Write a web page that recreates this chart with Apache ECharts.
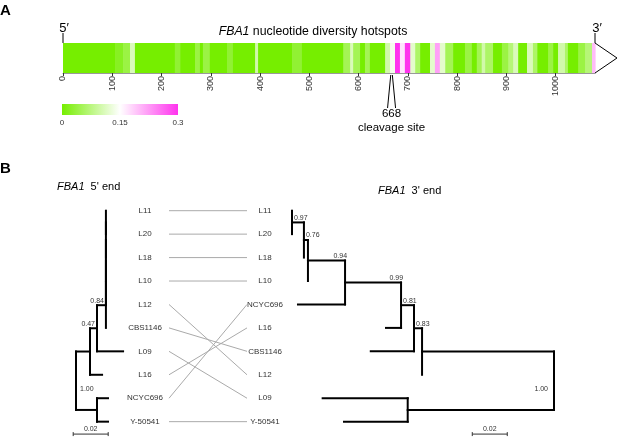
<!DOCTYPE html>
<html><head><meta charset="utf-8">
<script src="https://cdn.jsdelivr.net/npm/echarts/dist/echarts.min.js"></script>
<style>html,body{margin:0;padding:0;background:#fff}#c{width:617px;height:445px}</style>
</head><body><div id="c"></div>
<script>
// ---------- DATA ----------
const geneLength = 1080;
// sliding-window nucleotide diversity: window start (bp) and diversity value
const hotspotStart = [0,106,122,136,146,227,238,268,278,284,298,333,345,390,396,465,485,569,583,589,603,613,623,654,664,674,684,694,705,715,725,745,755,765,776,792,816,830,840,850,857,873,891,904,914,924,942,954,963,985,995,1005,1019,1025,1046,1060,1074];
const hotspotPi    = [0,0.02,0.04,0.11,0,0.03,0,0.04,0,0.04,0,0.03,0,0.1,0,0.03,0,0.05,0.11,0.05,0,0.05,0,0.1,0.14,0.3,0.17,0.3,0.12,0.06,0,0.12,0.22,0.12,0.05,0,0.04,0,0.05,0.1,0.06,0,0.04,0.07,0.11,0,0.11,0.06,0,0.04,0,0.1,0.06,0,0.04,0.07,0.2];
const heatColors = ['#76ee00', '#ffffff', '#ff33ee'];
const piScaleMax = 0.3;
const piScaleStep = 0.15;
const positionStep = 100;
const cleavageSite = 668;
const endPositions = [0, geneLength];
const endLabels = ['5\u2032', '3\u2032'];

const leftOrder  = ['L11','L20','L18','L10','L12','CBS1146','L09','L16','NCYC696','Y-50541'];
const rightOrder = ['L11','L20','L18','L10','NCYC696','L16','CBS1146','L12','L09','Y-50541'];
// [node, parent, distance from root]
const leftTree = [
  ['root', null, 0], ['n047','root',0.008], ['n084','n047',0.012],
  ['nA5','n084',0.0171], ['nA4','nA5',0.0171], ['nA3','nA4',0.0171], ['nA2','nA3',0.0171], ['nA1','nA2',0.0171],
  ['L11','nA1',0.0171], ['L20','nA1',0.0171], ['L18','nA2',0.0171], ['L10','nA3',0.0171], ['L12','nA4',0.0171], ['CBS1146','nA5',0.0171],
  ['L09','n084',0.0269], ['L16','n047',0.0149],
  ['nB','root',0.012], ['NCYC696','nB',0.0183], ['Y-50541','nB',0.0183]
];
const rightTree = [
  ['root', null, 0], ['n083','root',0.0754], ['n081','n083',0.08], ['n099','n081',0.0874],
  ['n094','n099',0.1194], ['n076b','n094',0.1406], ['n076a','n076b',0.1429], ['n097','n076a',0.1497],
  ['L11','n097',0.1497], ['L20','n097',0.1497], ['L18','n076a',0.1429], ['L10','n076b',0.1406],
  ['NCYC696','n094',0.1463], ['L16','n099',0.096], ['CBS1146','n081',0.1047], ['L12','n083',0.0754],
  ['nB2','root',0.0836], ['L09','nB2',0.1322], ['Y-50541','nB2',0.12]
];
// [node, support, placement]
const leftSupport  = [['nA5','0.84','node'], ['n084','0.47','node'], ['root','1.00','root']];
const rightSupport = [['n097','0.97','node'], ['n076a','0.76','node'], ['n076b','0.94','parent'], ['n094','0.99','parent'], ['n099','0.81','node'], ['n081','0.83','node'], ['root','1.00','root']];
const scaleBarLength = 0.02;
const leftScaleStart = -0.0016;
const rightScaleStart = 0.0267;
const scaleBarRow = 9.53;

// ---------- BUILD ----------
const FONT = 'Liberation Sans, Arial, Helvetica, sans-serif';
const chart = echarts.init(document.getElementById('c'), null, {renderer: 'canvas', width: 617, height: 445});

function layoutTree(nodes, order) {
  const m = {}, list = [];
  nodes.forEach(([name, parent, depth]) => { m[name] = {name, parent, depth, children: []}; list.push(m[name]); });
  list.forEach(n => { if (n.parent) m[n.parent].children.push(n); });
  const setY = n => {
    if (!n.children.length) { n.y = order.indexOf(n.name); return; }
    n.children.forEach(setY);
    const ys = n.children.map(c => c.y);
    n.minY = Math.min(...ys); n.maxY = Math.max(...ys); n.y = (n.minY + n.maxY) / 2;
  };
  setY(list.find(n => !n.parent));
  const segs = [];
  list.forEach(n => {
    if (n.parent) { const p = m[n.parent]; if (n.depth > p.depth) segs.push([p.depth, n.y, n.depth, n.y]); }
    if (n.children.length) segs.push([n.depth, n.minY, n.depth, n.maxY]);
  });
  return {m, segs};
}
const LT = layoutTree(leftTree, leftOrder);
const RT = layoutTree(rightTree, rightOrder);

function segSeries(gi, segs, color, width) {
  return {
    type: 'custom', xAxisIndex: gi, yAxisIndex: gi, data: segs, encode: {x: [0, 2], y: [1, 3]}, silent: true,
    renderItem: (p, api) => {
      const a = api.coord([api.value(0), api.value(1)]), b = api.coord([api.value(2), api.value(3)]);
      return {type: 'line', shape: {x1: a[0], y1: a[1], x2: b[0], y2: b[1]}, style: {stroke: color, lineWidth: width, lineCap: 'square'}};
    }
  };
}
function supportSeries(gi, T, support, dir) {
  const data = support.map(([node]) => { const n = T.m[node]; const p = n.parent ? T.m[n.parent] : n; return [n.depth, n.y, p.depth]; });
  return {
    type: 'custom', xAxisIndex: gi, yAxisIndex: gi, data, encode: {x: 0, y: 1}, silent: true,
    renderItem: (params, api) => {
      const [ , text, mode] = support[params.dataIndex];
      const p = api.coord([api.value(0), api.value(1)]), pp = api.coord([api.value(2), api.value(1)]);
      let x, align, y = p[1] - 1, va = 'bottom';
      if (mode === 'node') { x = p[0] - 2 * dir; align = dir > 0 ? 'right' : 'left'; }
      else if (mode === 'parent') { x = pp[0] - 2 * dir; align = dir > 0 ? 'left' : 'right'; }
      else { x = p[0] + (dir > 0 ? 4 : -6); align = dir > 0 ? 'left' : 'right'; y = p[1] + 8; va = 'middle'; }
      return {type: 'text', x, y, style: {text, textAlign: align, textVerticalAlign: va, fill: '#333', font: '7px ' + FONT}};
    }
  };
}
function scaleBarSeries(gi, start) {
  return {
    type: 'custom', xAxisIndex: gi, yAxisIndex: gi, data: [[start, start + scaleBarLength, scaleBarRow]], encode: {x: [0, 1], y: 2}, silent: true,
    renderItem: (params, api) => {
      const a = api.coord([api.value(0), api.value(2)]), b = api.coord([api.value(1), api.value(2)]);
      const x1 = Math.min(a[0], b[0]), x2 = Math.max(a[0], b[0]), y = a[1];
      return {type: 'group', children: [
        {type: 'line', shape: {x1, y1: y, x2, y2: y}, style: {stroke: '#333', lineWidth: 1}},
        {type: 'line', shape: {x1, y1: y - 2, x2: x1, y2: y + 2}, style: {stroke: '#333', lineWidth: 1}},
        {type: 'line', shape: {x1: x2, y1: y - 2, x2, y2: y + 2}, style: {stroke: '#333', lineWidth: 1}},
        {type: 'text', x: (x1 + x2) / 2, y: y - 2, style: {text: String(scaleBarLength), textAlign: 'center', textVerticalAlign: 'bottom', fill: '#333', font: '7px ' + FONT}}
      ]};
    }
  };
}

const hotspotData = hotspotStart.map((s, i) => [s, i + 1 < hotspotStart.length ? hotspotStart[i + 1] : geneLength, hotspotPi[i]]);
const leafData = leftOrder.map((n, i) => [0, i]).concat(rightOrder.map((n, i) => [1, i]));
const leafNames = leftOrder.concat(rightOrder);
const connData = leftOrder.map((n, i) => [i, rightOrder.indexOf(n)]);

const rowGrid = {top: 210.7, height: 234.4};
const option = {
  animation: false,
  backgroundColor: '#fff',
  grid: [
    {left: 63, right: 22, top: 43, height: 30, outerBoundsMode: 'none'},
    {left: 62, width: 116, top: 104, height: 11, outerBoundsMode: 'none'},
    Object.assign({left: 69, width: 70, outerBoundsMode: 'none'}, rowGrid),
    Object.assign({left: 145, width: 120, outerBoundsMode: 'none'}, rowGrid),
    Object.assign({left: 274, width: 280, outerBoundsMode: 'none'}, rowGrid)
  ],
  xAxis: [
    {gridIndex: 0, type: 'value', min: 0, max: geneLength, interval: positionStep,
      axisLine: {show: true, lineStyle: {color: '#999', width: 1}},
      axisTick: {show: true, length: 3, lineStyle: {color: '#333'}},
      axisLabel: {rotate: 90, margin: 3, fontSize: 9, color: '#333', fontFamily: FONT, showMaxLabel: false, formatter: v => String(v)},
      splitLine: {show: false}},
    {gridIndex: 1, type: 'value', min: 0, max: piScaleMax, interval: piScaleStep,
      axisLine: {show: false}, axisTick: {show: false}, splitLine: {show: false},
      axisLabel: {margin: 4, fontSize: 8, color: '#333', fontFamily: FONT, formatter: v => String(v)}},
    {gridIndex: 2, type: 'value', min: -0.004, max: 0.036, show: false},
    {gridIndex: 3, type: 'value', min: 0, max: 1, show: false},
    {gridIndex: 4, type: 'value', min: 0, max: 0.16, inverse: true, show: false}
  ],
  yAxis: [
    {gridIndex: 0, type: 'value', min: 0, max: 1, show: false},
    {gridIndex: 1, type: 'value', min: 0, max: 1, show: false},
    {gridIndex: 2, type: 'value', min: 0, max: 10, inverse: true, show: false},
    {gridIndex: 3, type: 'value', min: 0, max: 10, inverse: true, show: false},
    {gridIndex: 4, type: 'value', min: 0, max: 10, inverse: true, show: false}
  ],
  visualMap: {type: 'continuous', show: false, min: 0, max: piScaleMax, dimension: 2, seriesIndex: 0, inRange: {color: heatColors}},
  series: [
    // 0: heat strip
    {type: 'custom', xAxisIndex: 0, yAxisIndex: 0, data: hotspotData, encode: {x: [0, 1], y: 2}, silent: true,
      renderItem: (params, api) => {
        const a = api.coord([api.value(0), 1]), b = api.coord([api.value(1), 0]);
        return {type: 'rect', shape: {x: a[0], y: a[1], width: b[0] - a[0] + 0.6, height: b[1] - a[1]}, style: {fill: api.visual('color')}};
      }},
    // 1: colour scale bar
    {type: 'custom', xAxisIndex: 1, yAxisIndex: 1, data: [[0, piScaleMax]], encode: {x: [0, 1]}, silent: true,
      renderItem: (params, api) => {
        const a = api.coord([api.value(0), 1]), b = api.coord([api.value(1), 0]);
        return {type: 'rect', shape: {x: a[0], y: a[1], width: b[0] - a[0], height: b[1] - a[1]},
          style: {fill: {type: 'linear', x: 0, y: 0, x2: 1, y2: 0, colorStops: heatColors.map((c, i) => ({offset: i / (heatColors.length - 1), color: c}))}}};
      }},
    // 2: 5'/3' end markers
    {type: 'custom', xAxisIndex: 0, yAxisIndex: 0, data: endPositions.map(p => [p]), encode: {x: 0}, silent: true,
      renderItem: (params, api) => {
        const t = api.coord([api.value(0), 1]), mid = api.coord([api.value(0), 0.5]), bot = api.coord([api.value(0), 0]);
        const ch = [
          {type: 'line', shape: {x1: t[0], y1: t[1], x2: t[0], y2: t[1] - 10}, style: {stroke: '#000', lineWidth: 1}},
          {type: 'text', x: t[0] + (params.dataIndex ? 2 : 1), y: t[1] - 15, style: {text: endLabels[params.dataIndex], textAlign: 'center', textVerticalAlign: 'middle', fill: '#000', font: '13px ' + FONT}}
        ];
        if (params.dataIndex === endPositions.length - 1) {
          ch.push({type: 'polyline', shape: {points: [[t[0], t[1]], [mid[0] + 22, mid[1]], [bot[0], bot[1]]]}, style: {stroke: '#000', lineWidth: 1, fill: null}});
        }
        return {type: 'group', children: ch};
      }},
    // 3: cleavage site
    {type: 'custom', xAxisIndex: 0, yAxisIndex: 0, data: [[cleavageSite]], encode: {x: 0}, silent: true,
      renderItem: (params, api) => {
        const b = api.coord([api.value(0), 0]);
        const x = b[0] - 0.5, y = b[1];
        return {type: 'group', children: [
          {type: 'line', shape: {x1: x - 0.8, y1: y + 2, x2: x - 4, y2: y + 35}, style: {stroke: '#000', lineWidth: 1}},
          {type: 'line', shape: {x1: x + 0.8, y1: y + 2, x2: x + 4, y2: y + 35}, style: {stroke: '#000', lineWidth: 1}},
          {type: 'text', x, y: y + 41, style: {text: String(api.value(0)), textAlign: 'center', textVerticalAlign: 'middle', fill: '#000', font: '11.5px ' + FONT}},
          {type: 'text', x, y: y + 55, style: {text: 'cleavage site', textAlign: 'center', textVerticalAlign: 'middle', fill: '#000', font: '11.5px ' + FONT}}
        ]};
      }},
    // trees
    segSeries(2, LT.segs, '#000', 2),
    segSeries(4, RT.segs, '#000', 2),
    supportSeries(2, LT, leftSupport, 1),
    supportSeries(4, RT, rightSupport, -1),
    scaleBarSeries(2, leftScaleStart),
    scaleBarSeries(4, rightScaleStart),
    // connectors between tip labels
    {type: 'custom', xAxisIndex: 3, yAxisIndex: 3, data: connData, encode: {y: [0, 1]}, silent: true,
      renderItem: (params, api) => {
        const a = api.coord([0, api.value(0)]), b = api.coord([1, api.value(1)]);
        return {type: 'line', shape: {x1: a[0] + 24, y1: a[1], x2: b[0] - 18, y2: b[1]}, style: {stroke: '#aaa', lineWidth: 1}};
      }},
    // tip labels
    {type: 'custom', xAxisIndex: 3, yAxisIndex: 3, data: leafData, encode: {x: 0, y: 1}, silent: true,
      renderItem: (params, api) => {
        const p = api.coord([api.value(0), api.value(1)]);
        return {type: 'text', x: p[0], y: p[1], style: {text: leafNames[params.dataIndex], textAlign: 'center', textVerticalAlign: 'middle', fill: '#333', font: '8px ' + FONT}};
      }}
  ],
  graphic: [
    {type: 'text', x: 0, y: 3, style: {text: 'A', font: 'bold 15px ' + FONT, fill: '#000'}},
    {type: 'text', x: 0, y: 161, style: {text: 'B', font: 'bold 15px ' + FONT, fill: '#000'}},
    {type: 'text', x: 313, y: 32, style: {text: '{i|FBA1} nucleotide diversity hotspots', textAlign: 'center', textVerticalAlign: 'middle', font: '12.3px ' + FONT, fill: '#000',
      rich: {i: {fontStyle: 'italic', fontSize: 12.3, fontFamily: FONT}}}},
    {type: 'text', x: 57, y: 187, style: {text: '{i|FBA1}  5\' end', textVerticalAlign: 'middle', font: '11px ' + FONT, fill: '#000',
      rich: {i: {fontStyle: 'italic', fontSize: 11, fontFamily: FONT}}}},
    {type: 'text', x: 378, y: 190.5, style: {text: '{i|FBA1}  3\' end', textVerticalAlign: 'middle', font: '11px ' + FONT, fill: '#000',
      rich: {i: {fontStyle: 'italic', fontSize: 11, fontFamily: FONT}}}}
  ]
};
chart.setOption(option);
</script></body></html>
